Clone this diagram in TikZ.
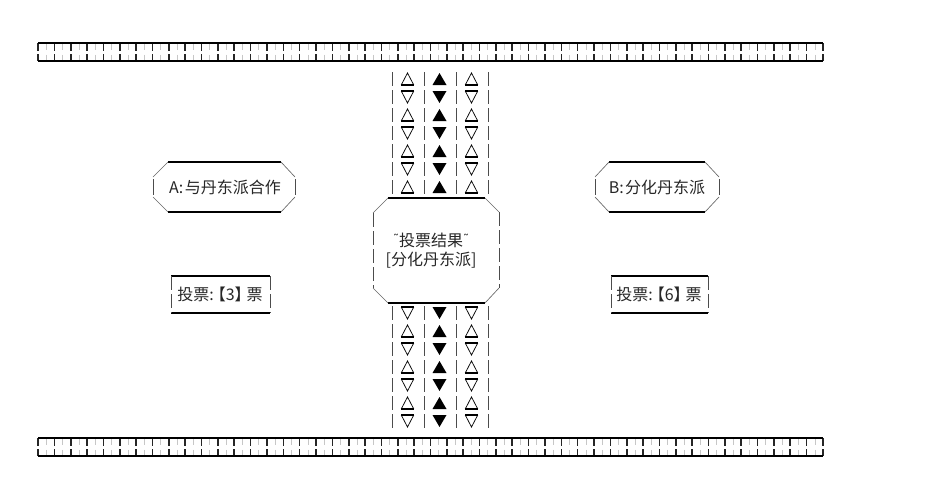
\documentclass[tikz,border=0pt]{standalone}
\usepackage{fontspec}
\newfontfamily\cjk{Noto Sans CJK SC}
\newfontfamily\dv{DejaVu Sans}
\tikzset{
  hline/.style={line width=1.5pt,black},
  btick/.style={line width=1.2pt,black!85},
  gtick/.style={line width=0.5pt,black!22},
  vbar/.style={line width=0.7pt,black!70},
  dbar/.style={line width=0.7pt,black!70,dash pattern=on 10.5pt off 3pt},
  diag/.style={line width=0.5pt,black!60},
  edgeline/.style={line width=1.1pt,black},
  lbl/.style={font=\cjk\fontsize{12pt}{14pt}\selectfont,inner sep=0pt,text=black!85},
  tup/.pic={\draw[line width=0.55pt] (-6,5.5) -- (0,-6) -- (6,5.5) -- cycle;
            \draw[line width=1.2pt] (-6.5,6) -- (6.5,6);},
  tdown/.pic={\draw[line width=0.55pt] (-6,-5.5) -- (0,6) -- (6,-5.5) -- cycle;
              \draw[line width=1.2pt] (-6.5,-6) -- (6.5,-6);},
  fup/.pic={\fill (-7,6) -- (0,-6) -- (7,6) -- cycle;},
  fdown/.pic={\fill (-7,-6) -- (0,6) -- (7,-6) -- cycle;}
}
\begin{document}
\begin{tikzpicture}[x=0.75pt,y=-0.75pt]
\useasboundingbox (0,0) rectangle (928,496);
% rails
\foreach \yt/\yb in {43/61,438/456}{
  \foreach \i in {0,...,47}{
    \pgfmathsetmacro\xx{38+16.354*\i+8.2}
    \draw[gtick] (\xx,\yt) -- (\xx,\yt+7);
    \draw[gtick] (\xx,\yb-6.5) -- (\xx,\yb);
  }
  \foreach \i in {0,...,48}{
    \pgfmathsetmacro\xx{38+16.354*\i}
    \draw[btick] (\xx,\yt) -- (\xx,\yt+7.5);
    \draw[btick] (\xx,\yb-7) -- (\xx,\yb);
  }
  \draw[hline] (38,\yt) -- (823,\yt);
  \draw[hline] (38,\yb) -- (823,\yb);
}
% upper triangle column
\foreach \i in {0,...,6}{
  \pgfmathsetmacro\cy{79+18*\i}
  \foreach \bx in {392,424,456,488}{
    \draw[vbar] (\bx,\cy-7) -- (\bx,\cy+7);
  }
  \ifodd\i
    \pic at (407.5,\cy) {tdown}; \pic at (439.5,\cy) {fdown}; \pic at (471.5,\cy) {tdown};
  \else
    \pic at (407.5,\cy) {tup}; \pic at (439.5,\cy) {fup}; \pic at (471.5,\cy) {tup};
  \fi
}
% lower triangle column
\foreach \i in {0,...,6}{
  \pgfmathsetmacro\cy{313+18*\i}
  \foreach \bx in {392,424,456,488}{
    \draw[vbar] (\bx,\cy-7) -- (\bx,\cy+7);
  }
  \ifodd\i
    \pic at (407.5,\cy) {tup}; \pic at (439.5,\cy) {fup}; \pic at (471.5,\cy) {tup};
  \else
    \pic at (407.5,\cy) {tdown}; \pic at (439.5,\cy) {fdown}; \pic at (471.5,\cy) {tdown};
  \fi
}
% central octagon
\draw[edgeline] (388,198) -- (485,198);
\draw[edgeline] (388,303) -- (485,303);
\draw[diag] (388,198) -- (373,213);
\draw[diag] (485,198) -- (499,212);
\draw[diag] (373,288) -- (388,303);
\draw[diag] (499,288) -- (485,303);
\draw[dbar] (373,213) -- (373,288);
\draw[dbar] (499,212) -- (499,288);
\node[lbl] (res1) at (431,240) {{\dv\raisebox{2pt}{\fontsize{9pt}{9pt}\selectfont˜}}投票结果{\dv\raisebox{2pt}{\fontsize{9pt}{9pt}\selectfont˜}}};
\node[lbl] (res2) at (431,260) {[分化丹东派]};
% option A
\draw[edgeline] (168,162) -- (281,162);
\draw[edgeline] (168,212) -- (281,212);
\draw[diag] (168,162) -- (153,177);
\draw[diag] (153,197) -- (168,212);
\draw[diag] (281,162) -- (295,177);
\draw[diag] (295,197) -- (281,212);
\draw[vbar] (153,179) -- (153,195);
\draw[vbar] (295,179) -- (295,195);
\node[lbl] (optA) at (225,187) {A:\kern1pt与丹东派合作};
% option B
\draw[edgeline] (609,162) -- (705,162);
\draw[edgeline] (609,212) -- (705,212);
\draw[diag] (609,162) -- (595,177);
\draw[diag] (595,197) -- (609,212);
\draw[diag] (705,162) -- (719,177);
\draw[diag] (719,197) -- (705,212);
\draw[vbar] (595,179) -- (595,195);
\draw[vbar] (719,179) -- (719,195);
\node[lbl] (optB) at (657,187) {B:\kern1pt分化丹东派};
% vote boxes
\draw[line width=0.9pt] (171,276) -- (270,276);
\draw[line width=0.9pt] (171,313) -- (270,313);
\draw[dbar] (171,276) -- (171,313);
\draw[dbar] (270,276) -- (270,313);
\node[lbl] (voteA) at (220,294) {投票:\kern-3pt【3】\kern-3pt票};
\draw[line width=0.9pt] (611,276) -- (708,276);
\draw[line width=0.9pt] (611,313) -- (708,313);
\draw[dbar] (611,276) -- (611,313);
\draw[dbar] (708,276) -- (708,313);
\node[lbl] (voteB) at (659,294) {投票:\kern-3pt【6】\kern-3pt票};
\end{tikzpicture}
\end{document}
